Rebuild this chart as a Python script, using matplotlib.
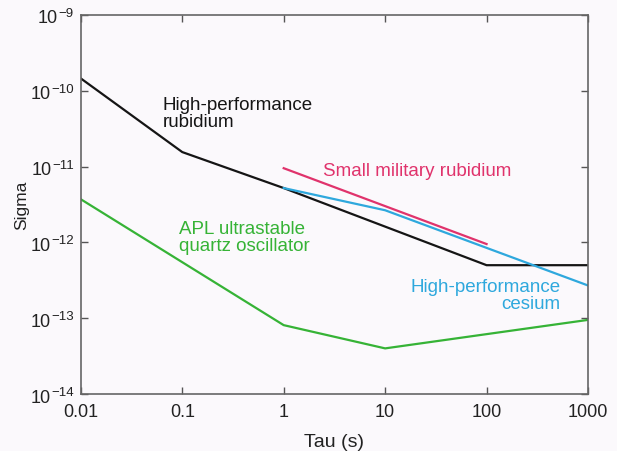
import matplotlib
matplotlib.use("Agg")
import matplotlib.pyplot as plt

plt.rcParams['font.family'] = ['Liberation Sans', 'DejaVu Sans']

# data
hp_rb_tau = [0.01, 0.1, 1, 100, 1000]
hp_rb_sigma = [1.45e-10, 1.55e-11, 5.2e-12, 5.0e-13, 5.0e-13]

cs_tau = [1, 10, 1000]
cs_sigma = [5.2e-12, 2.65e-12, 2.7e-13]

mil_rb_tau = [1, 100]
mil_rb_sigma = [9.5e-12, 9.5e-13]

quartz_tau = [0.01, 1, 10, 1000]
quartz_sigma = [3.7e-12, 8.1e-14, 4.0e-14, 9.5e-14]

xticks = [0.01, 0.1, 1, 10, 100, 1000]
xticklabels = ['0.01', '0.1', '1', '10', '100', '1000']
yticks = [1e-14, 1e-13, 1e-12, 1e-11, 1e-10, 1e-9]
ytick_base = '10'
ytick_exp = ['\u221214', '\u221213', '\u221212', '\u221211', '\u221210', '\u22129']

bg = '#fbf9fc'
black = '#151515'
red = '#e0336c'
blue = '#2ea8dd'
green = '#36b336'
txt = '#222222'

fig = plt.figure(figsize=(6.17, 4.52), dpi=100, facecolor=bg)
ax = fig.add_axes([0.131, 0.126, 0.822, 0.839], facecolor=bg)

ax.plot(hp_rb_tau, hp_rb_sigma, color=black, lw=1.6)
ax.plot(cs_tau, cs_sigma, color=blue, lw=1.6)
ax.plot(mil_rb_tau, mil_rb_sigma, color=red, lw=1.6)
ax.plot(quartz_tau, quartz_sigma, color=green, lw=1.6)

ax.set_xscale('log')
ax.set_yscale('log')
ax.set_xlim(0.01, 1000)
ax.set_ylim(1e-14, 1e-9)
ax.set_xticks(xticks)
ax.set_xticklabels(xticklabels)
ax.set_yticks(yticks)
ax.set_yticklabels([])
ax.minorticks_off()
ax.tick_params(direction='in', length=4.8, width=1, color='#555555',
               top=True, right=True, labelsize=13, labelcolor=txt, pad=6.5)
for s in ax.spines.values():
    s.set_color('#666666')
    s.set_linewidth(1.2)

# y tick labels as "10" with a raised exponent
renderer = fig.canvas.get_renderer()
ytrans = ax.get_yaxis_transform()
for y, e in zip(yticks, ytick_exp):
    sup = ax.annotate(e, xy=(0, y), xycoords=ytrans, xytext=(-7, -1),
                      textcoords='offset pixels', ha='right', va='baseline',
                      fontsize=9.5, color=txt, annotation_clip=False)
    w = sup.get_window_extent(renderer).width
    ax.annotate(ytick_base, xy=(0, y), xycoords=ytrans, xytext=(-7 - w - 0.5, -7.5),
                textcoords='offset pixels', ha='right', va='baseline',
                fontsize=13, color=txt, annotation_clip=False)

ax.set_xlabel('Tau (s)', fontsize=14, color=txt, labelpad=9)
ax.set_ylabel('Sigma', fontsize=12.5, color=txt, labelpad=31)

ax.text(0.064, 8.5e-11, 'High-performance\nrubidium', color=black, fontsize=13.5,
        ha='left', va='top', linespacing=1.0)
ax.text(2.42, 1.14e-11, 'Small military rubidium', color=red, fontsize=13.5,
        ha='left', va='top')
ax.text(0.093, 2.0e-12, 'APL ultrastable\nquartz oscillator', color=green, fontsize=13.5,
        ha='left', va='top', linespacing=1.0)
ax.text(537, 3.4e-13, 'High-performance\ncesium', color=blue, fontsize=13.5,
        ha='right', va='top', linespacing=1.0, multialignment='right')

fig.savefig('out.png', dpi=100, facecolor=bg)
